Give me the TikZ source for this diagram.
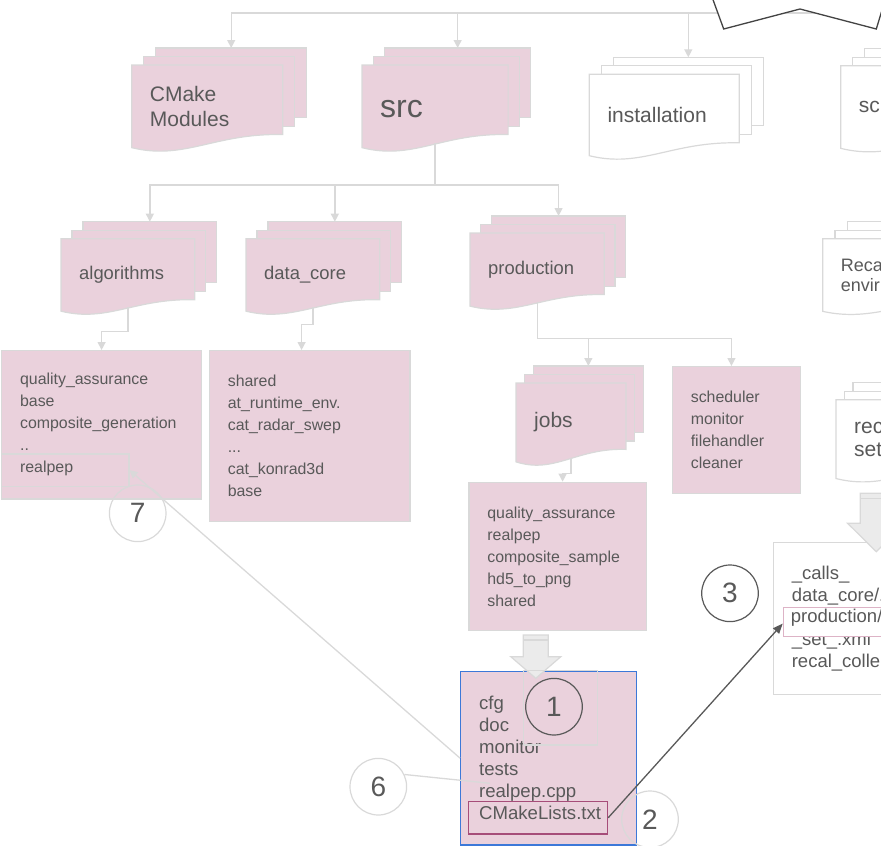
\documentclass[tikz,border=0pt]{standalone}
\usepackage{fontspec}
\setmainfont{Liberation Sans}
\usetikzlibrary{arrows.meta}

\begin{document}
\begin{tikzpicture}[x=1pt,y=-1pt]
  \definecolor{pinkfill}{HTML}{EAD1DC}
  \definecolor{pinkedge}{HTML}{DDB3C6}
  \definecolor{linegray}{HTML}{D9D9D9}
  \definecolor{textgray}{HTML}{595959}
  \definecolor{darkline}{HTML}{595959}
  \definecolor{calloutgray}{HTML}{434343}
  \definecolor{frameblue}{HTML}{3C78D8}
  \definecolor{plum}{HTML}{A64D79}
  \definecolor{arrowfill}{HTML}{EBEBEB}
  \path[use as bounding box] (0,0) rectangle (881,846);
  \clip (0,0) rectangle (881,846);

  \tikzset{
    pics/docstack/.style n args={5}{code={
      \pgfmathsetmacro\stackw{#1-2*#3}
      \pgfmathsetmacro\stackh{#2-17}
      \path[fill=#4,draw=#5,line width=1.2pt] (2*#3,0) rectangle ++(\stackw,0.8*\stackh);
      \path[fill=#4,draw=#5,line width=1.2pt] (#3,8.5) rectangle ++(\stackw,0.8*\stackh);
      \path[fill=#4,draw=#5,line width=1.2pt] (0,17) -- (\stackw,17) -- (\stackw,17+0.8*\stackh)
        .. controls (0.55*\stackw,17+0.78*\stackh) and (0.35*\stackw,17+1.1*\stackh) .. (0,17+0.95*\stackh) -- cycle;
      \coordinate (-in) at (2*#3+0.5*\stackw,0);
      \coordinate (-out) at (0.5*\stackw,17+0.9*\stackh);
      \coordinate (-txt) at (18,17+0.475*\stackh);
    }},
    pics/fatarrow/.style n args={4}{code={
      \path[fill=arrowfill,draw=linegray,line width=1.2pt] (-#1/2,0) -- (#1/2,0) -- (#1/2,#3) -- (#2/2,#3)
        -- (0,#3+#4) -- (-#2/2,#3) -- (-#1/2,#3) -- cycle;
      \draw[linegray,line width=1.2pt] (-#1/2,5) -- (#1/2,5);
    }},
    conn/.style={draw=linegray,line width=1.3pt,-{Triangle[length=8pt,width=8pt]}},
    listbox/.style={draw=linegray,line width=1.2pt,fill=pinkfill,anchor=north west,align=left,
      inner xsep=18.5pt,inner ysep=0pt,text=textgray,font=\fontsize{15.9}{22}\selectfont},
    stacklabel/.style={anchor=west,inner sep=0pt,align=left,text=textgray},
    hilite/.style={draw=linegray,line width=1.2pt,anchor=north west,inner sep=0pt},
    numring/.style={circle,draw=linegray,line width=1.2pt,minimum size=56.6pt,inner sep=0pt,
      text=textgray,font=\fontsize{28}{28}\selectfont}
  }

  % folder stacks
  \pic (cm) at (131.7,48) {docstack={175}{104}{12}{pinkfill}{linegray}};
  \pic (src) at (362,48) {docstack={168.7}{104}{11.3}{pinkfill}{linegray}};
  \pic (inst) at (589.3,57.3) {docstack={174}{102.7}{12}{white}{linegray}};
  \pic (sc) at (840.7,48.7) {docstack={175}{104}{12}{white}{linegray}};
  \pic (algo) at (61,221.7) {docstack={155.7}{93.3}{11}{pinkfill}{linegray}};
  \pic (dc) at (246,221.7) {docstack={155.7}{93.3}{11}{pinkfill}{linegray}};
  \pic (prod) at (470,216) {docstack={155.7}{94}{10.7}{pinkfill}{linegray}};
  \pic (jobs) at (516,366) {docstack={127.3}{100}{8.7}{pinkfill}{linegray}};
  \pic (env) at (822.7,221.7) {docstack={175}{93.5}{12.3}{white}{linegray}};
  \pic (set) at (836,382.7) {docstack={160}{100}{8.5}{white}{linegray}};

  \node[stacklabel,font=\fontsize{21}{25}\selectfont] (cmtext) at (cm-txt) {CMake\\Modules};
  \node[stacklabel,anchor=base west,font=\fontsize{32}{32}\selectfont] (srctext) at ([yshift=-11pt]src-txt) {src};
  \node[stacklabel,font=\fontsize{21}{25}\selectfont] (insttext) at (inst-txt) {installation};
  \node[stacklabel,font=\fontsize{21}{25}\selectfont] (sctext) at (sc-txt) {sc};
  \node[stacklabel,font=\fontsize{18.4}{22}\selectfont] (algotext) at (algo-txt) {algorithms};
  \node[stacklabel,font=\fontsize{18.4}{22}\selectfont] (dctext) at (dc-txt) {data\_core};
  \node[stacklabel,font=\fontsize{18.4}{22}\selectfont] (prodlabel) at (prod-txt) {production};
  \node[stacklabel,font=\fontsize{21}{25}\selectfont] (jobstext) at (jobs-txt) {jobs};
  \node[stacklabel,font=\fontsize{18}{20}\selectfont] (envtext) at (env-txt) {Reca\\envir};
  \node[stacklabel,font=\fontsize{21}{23}\selectfont] (settext) at (set-txt) {rec\\set};

  % file lists
  \node[listbox,text width=163pt,minimum height=148.3pt] (algolist) at (1,350)
    {quality\_assurance\\base\\composite\_generation\\..\\realpep};
  \node[listbox,text width=163.6pt,minimum height=171pt] (dclist) at (208.7,350)
    {shared\\at\_runtime\_env.\\cat\_radar\_swep\\...\\cat\_konrad3d\\base};
  \node[listbox,text width=140.4pt,minimum height=148.3pt] (jobslist) at (468.3,481.7)
    {quality\_assurance\\realpep\\composite\_sample\\hd5\_to\_png\\shared};
  \node[listbox,text width=91.3pt,minimum height=126.7pt] (schedlist) at (671.7,366)
    {scheduler\\monitor\\filehandler\\cleaner};
  \node[listbox,draw=frameblue,text width=139pt,minimum height=173.6pt,font=\fontsize{18.6}{22}\selectfont]
    (srcbox) at (460,670.7) {cfg\\doc\\monitor\\tests\\realpep.cpp\\CMakeLists.txt};
  \node[listbox,fill=white,text width=163pt,minimum height=152pt,font=\fontsize{18.5}{22}\selectfont]
    (callbox) at (772.7,541.7) {\_calls\_\\data\_core/.\\\mbox{}\\\_set\_.xml\\recal\_colle};

  % tree connectors
  \coordinate (root) at (900,13);
  \draw[conn] (root) -| (cm-in);
  \draw[conn] (root) -| (src-in);
  \draw[conn] (root) -| (inst-in);
  \draw[calloutgray,line width=1.3pt,fill=white] (712,-3) -- (723.7,29) -- (800,9) -- (876.3,29) -- (886,-3);

  \coordinate (srcsplit) at (src-out |- 0,185);
  \draw[conn] (src-out) -- (srcsplit) -| (algo-in);
  \draw[conn] (srcsplit) -| (dc-in);
  \draw[conn] (srcsplit) -| (prod-in);

  \coordinate (algobend) at (algo-out |- 0,331.7);
  \draw[conn] (algo-out) -- (algobend) -| (algolist.north);
  \coordinate (dcbend) at (dc-out |- 0,324.3);
  \draw[conn] (dc-out) -- (dcbend) -| ([xshift=-8pt]dclist.north);
  \coordinate (prodbend) at (prod-out |- 0,338.3);
  \draw[conn] (prod-out) -- (prodbend) -| (jobs-in);
  \draw[conn] (prodbend) -| ([xshift=-5pt]schedlist.north);
  \coordinate (jobsbend) at (jobs-out |- 0,473.3);
  \draw[conn] (jobs-out) -- (jobsbend) -| ([xshift=5pt]jobslist.north);

  \pic at (535.8,635) {fatarrow={25}{50}{21.7}{21.6}};
  \pic at (876.3,493.3) {fatarrow={32}{57.4}{30}{28.4}};

  % annotations
  \node[hilite,minimum width=127.3pt,minimum height=32.4pt] (realpepmark) at (1,453.3) {};
  \node[hilite,minimum width=74pt,minimum height=74.3pt] (cfgmark) at (522.7,670) {};
  \node[hilite,draw=plum,line width=1.5pt,minimum width=139pt,minimum height=32.6pt] (cmakemark) at (467.7,800.7) {};
  \node[hilite,draw=pinkedge,fill=white,minimum width=120pt,minimum height=29pt] (prodmark) at (782.7,606.5) {};
  \node[stacklabel,anchor=base west,font=\fontsize{18.5}{22}\selectfont] (prodpath) at (790.7,622.5) {production/};

  \node[numring] (c7) at (137.7,513.3) {7};
  \node[numring,draw=darkline] (c1) at (554,706.7) {1};
  \node[numring] (c2) at (650,819.3) {2};
  \node[numring] (c6) at (378.3,786.7) {6};
  \node[numring,draw=darkline] (c3) at (730,593.3) {3};

  \coordinate (rpend) at (490,783.3);
  \draw[conn] (srcbox.west) -- (realpepmark.east);
  \draw[linegray,line width=1.3pt] (c6.25) -- (rpend);
  \draw[darkline,line width=1.3pt,-{Triangle[length=10pt,width=8pt]}] (cmakemark.east) -- ([yshift=-2pt]prodmark.west);
\end{tikzpicture}
\end{document}
